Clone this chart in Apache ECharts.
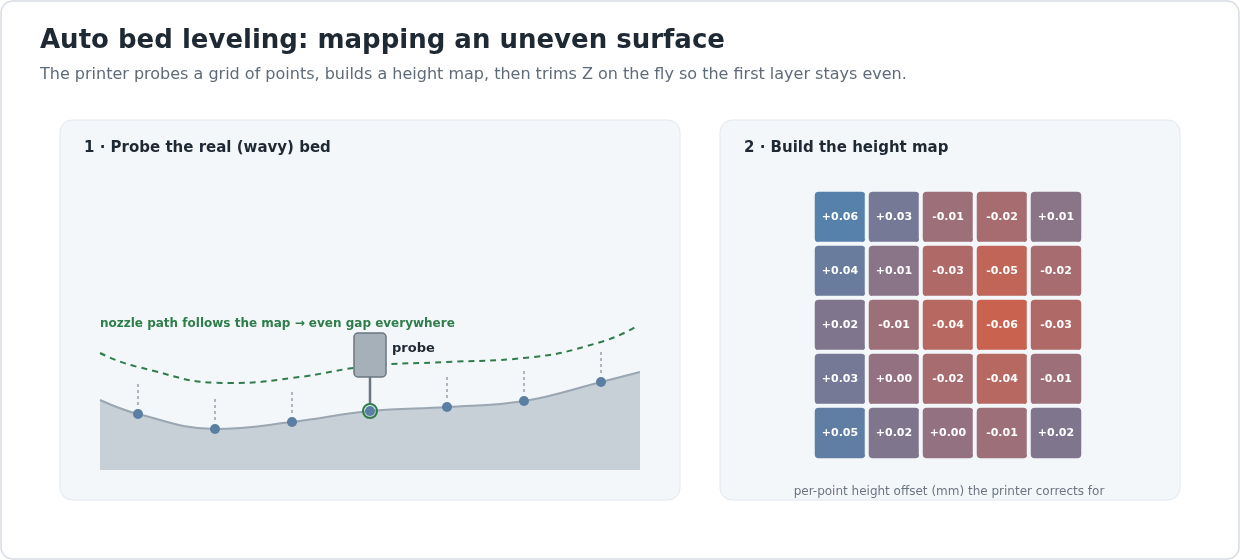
<!DOCTYPE html>
<html>
<head>
<meta charset="utf-8">
<script src="https://cdn.jsdelivr.net/npm/echarts@6/dist/echarts.min.js"></script>
<style>
  html, body { margin: 0; padding: 0; background: #fff; }
  #main { width: 1240px; height: 560px; }
</style>
</head>
<body>
<div id="main"></div>
<script>
  // bed surface (x position along bed, height)
  var bedX = [0, 38, 115, 192, 270, 347, 424, 501, 540];
  var bedH = [70, 56, 41, 48, 59, 63, 69, 88, 98];
  // probe points
  var probeX = [38, 115, 192, 270, 347, 424, 501];
  var probeH = [56, 41, 48, 59, 63, 69, 88];
  var probeIndex = 3;
  // compensated nozzle path
  var pathX = [0, 38, 130, 192, 270, 347, 424, 501, 537];
  var pathH = [117, 103, 87, 92, 104, 108, 112, 128, 144];
  // height map (mm), rows top to bottom
  var mapRows = [
    [0.06, 0.03, -0.01, -0.02, 0.01],
    [0.04, 0.01, -0.03, -0.05, -0.02],
    [0.02, -0.01, -0.04, -0.06, -0.03],
    [0.03, 0.00, -0.02, -0.04, -0.01],
    [0.05, 0.02, 0.00, -0.01, 0.02]
  ];
  var mapCols = ['c1', 'c2', 'c3', 'c4', 'c5'];
  var mapRowNames = ['r1', 'r2', 'r3', 'r4', 'r5'];

  var zip = function (xs, ys) { return xs.map(function (x, i) { return [x, ys[i]]; }); };
  var heatData = [];
  mapRows.forEach(function (row, r) {
    row.forEach(function (v, c) { heatData.push([c, r, v]); });
  });
  var fmt = function (v) { return (v >= 0 ? '+' : '-') + Math.abs(v).toFixed(2); };

  var chart = echarts.init(document.getElementById('main'));
  var option = {
    animation: false,
    textStyle: { fontFamily: 'DejaVu Sans' },
    graphic: [
      { type: 'rect', shape: { x: 1, y: 1, width: 1238, height: 558, r: 12 }, style: { fill: '#fff', stroke: '#d8dce2', lineWidth: 1.5 }, z: -10 },
      { type: 'rect', shape: { x: 60, y: 120, width: 620, height: 380, r: 12 }, style: { fill: '#f4f7fa', stroke: '#e2e8ef' }, z: -9 },
      { type: 'rect', shape: { x: 720, y: 120, width: 460, height: 380, r: 12 }, style: { fill: '#f4f7fa', stroke: '#e2e8ef' }, z: -9 },
      { type: 'text', left: 40, top: 28, style: { text: 'Auto bed leveling: mapping an uneven surface', font: 'bold 26px DejaVu Sans', fill: '#1f2933' } },
      { type: 'text', left: 40, top: 67, style: { text: 'The printer probes a grid of points, builds a height map, then trims Z on the fly so the first layer stays even.', font: '16px DejaVu Sans', fill: '#5f6b78' } },
      { type: 'text', left: 84, top: 141, style: { text: '1 · Probe the real (wavy) bed', font: 'bold 15px DejaVu Sans', fill: '#1f2933' } },
      { type: 'text', left: 744, top: 141, style: { text: '2 · Build the height map', font: 'bold 15px DejaVu Sans', fill: '#1f2933' } },
      { type: 'text', left: 100, top: 318, style: { text: 'nozzle path follows the map → even gap everywhere', font: 'bold 12px DejaVu Sans', fill: '#2e7d4a' } },
      { type: 'text', left: 392, top: 342, style: { text: 'probe', font: 'bold 13px DejaVu Sans', fill: '#1f2933' } },
      { type: 'text', x: 949, y: 492, style: { text: 'per-point height offset (mm) the printer corrects for', font: '12px DejaVu Sans', fill: '#6b7580', align: 'center', verticalAlign: 'middle' } }
    ],
    grid: [
      { left: 100, top: 300, width: 540, height: 170 },
      { left: 813, top: 190, width: 270, height: 270 }
    ],
    xAxis: [
      { type: 'value', gridIndex: 0, min: 0, max: 540, show: false },
      { type: 'category', gridIndex: 1, data: mapCols, show: false }
    ],
    yAxis: [
      { type: 'value', gridIndex: 0, min: 0, max: 170, show: false },
      { type: 'category', gridIndex: 1, data: mapRowNames, inverse: true, show: false }
    ],
    visualMap: {
      show: false, seriesIndex: 4, min: -0.06, max: 0.06,
      inRange: { color: ['#c96350', '#947180', '#5581ab'] }
    },
    series: [
      {
        type: 'line', xAxisIndex: 0, yAxisIndex: 0, data: zip(bedX, bedH), smooth: 0.4, symbol: 'none',
        lineStyle: { color: '#9aa6b1', width: 2 },
        areaStyle: { color: '#c7cfd7', opacity: 1 }, z: 1
      },
      {
        type: 'line', xAxisIndex: 0, yAxisIndex: 0, data: zip(pathX, pathH), smooth: 0.5, symbol: 'none',
        lineStyle: { color: '#2e7d4a', width: 2, type: [6, 5] }, z: 3
      },
      {
        type: 'custom', xAxisIndex: 0, yAxisIndex: 0, data: zip(probeX, probeH), z: 4,
        renderItem: function (params, api) {
          var x = api.value(0), h = api.value(1);
          var p = api.coord([x, h]);
          var top = api.coord([x, h + 30]);
          var children = [];
          if (params.dataIndex !== probeIndex) {
            children.push({ type: 'line', shape: { x1: p[0], y1: top[1], x2: p[0], y2: p[1] - 7 }, style: { stroke: '#6b7580', lineWidth: 1, lineDash: [3, 3] } });
          } else {
            children.push({ type: 'line', shape: { x1: p[0], y1: p[1] - 34, x2: p[0], y2: p[1] - 6 }, style: { stroke: '#6b7580', lineWidth: 2.5 } });
            children.push({ type: 'rect', shape: { x: p[0] - 16, y: p[1] - 78, width: 32, height: 44, r: 4 }, style: { fill: '#a6b0b9', stroke: '#6b7580', lineWidth: 1.5 } });
            children.push({ type: 'circle', shape: { cx: p[0], cy: p[1], r: 7 }, style: { fill: 'none', stroke: '#2e7d4a', lineWidth: 2 } });
          }
          children.push({ type: 'circle', shape: { cx: p[0], cy: p[1], r: 5 }, style: { fill: '#5a7fa3' } });
          return { type: 'group', children: children };
        }
      },
      { type: 'line', xAxisIndex: 0, yAxisIndex: 0, data: [], symbol: 'none' },
      {
        type: 'heatmap', xAxisIndex: 1, yAxisIndex: 1, data: heatData,
        itemStyle: { borderColor: '#f4f7fa', borderWidth: 4, borderRadius: 6 },
        label: {
          show: true, color: '#fff', fontWeight: 'bold', fontSize: 11,
          formatter: function (p) { return fmt(p.value[2]); }
        },
        emphasis: { disabled: true }
      }
    ]
  };
  chart.setOption(option);
</script>
</body>
</html>
